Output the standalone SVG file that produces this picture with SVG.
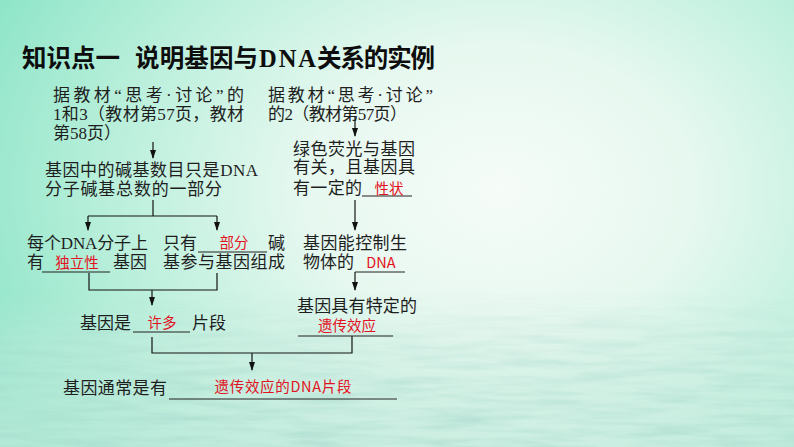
<svg xmlns="http://www.w3.org/2000/svg" width="794" height="447" viewBox="0 0 794 447">
<defs>
<radialGradient id="bg" gradientUnits="userSpaceOnUse" cx="500" cy="190" r="560" fx="500" fy="190" gradientTransform="translate(500 190) scale(1 0.75) translate(-500 -190)">
<stop offset="0" stop-color="#f6fcf8"/>
<stop offset="0.35" stop-color="#e6f8ef"/>
<stop offset="0.7" stop-color="#b9efdb"/>
<stop offset="1" stop-color="#8ee5c8"/>
</radialGradient>
<linearGradient id="fade" x1="0" y1="0" x2="0" y2="1">
<stop offset="0" stop-color="#fff" stop-opacity="0"/>
<stop offset="0.35" stop-color="#fff" stop-opacity="0.6"/>
<stop offset="1" stop-color="#fff" stop-opacity="1"/>
</linearGradient>
<mask id="waterMask" maskUnits="userSpaceOnUse" x="0" y="290" width="794" height="157">
<rect x="0" y="290" width="794" height="157" fill="url(#fade)"/>
</mask>
<filter id="water" x="0" y="0" width="100%" height="100%" color-interpolation-filters="sRGB">
<feTurbulence type="fractalNoise" baseFrequency="0.014 0.13" numOctaves="3" seed="7"/>
<feColorMatrix type="matrix" values="0 0 0 0 0.62  0 0 0 0 0.83  0 0 0 0 0.78  1.3 0 0 0 -0.5"/>
</filter>
<marker id="ah" markerUnits="userSpaceOnUse" markerWidth="8" markerHeight="9" refX="3" refY="8" orient="0" viewBox="0 0 6 9">
<path d="M0,0 L6,0 L3,9 z" fill="#111"/>
</marker>
<style>
.t{font-family:"Liberation Serif","Noto Sans CJK SC",serif;font-size:17px;fill:#1e1e1e}
.r{font-family:"Noto Sans CJK SC","Liberation Sans",sans-serif;font-size:14.5px;fill:#e2121e;text-anchor:middle}
.ttl{font-family:"Noto Sans CJK SC","Liberation Sans",sans-serif;font-size:24.5px;font-weight:700;fill:#0d0d0d}
.ttls{font-family:"Liberation Serif",serif;font-size:24.5px;font-weight:700;fill:#0d0d0d}
.ln{stroke:#151515;stroke-width:1.2;fill:none}
.ar{stroke:#151515;stroke-width:1.2;fill:none;marker-end:url(#ah)}
.ul{stroke:#222;stroke-width:1}
</style>
</defs>
<rect width="794" height="447" fill="url(#bg)"/>
<rect x="0" y="290" width="794" height="157" fill="#d2ece3" opacity="0.55" mask="url(#waterMask)"/>
<rect x="0" y="290" width="794" height="157" filter="url(#water)" mask="url(#waterMask)" opacity="0.8"/>

<g id="title">
<text class="ttl" x="22" y="67" textLength="98">知识点一</text>
<text class="ttl" x="135" y="67" textLength="123">说明基因与</text>
<text class="ttls" x="259" y="67" textLength="57">DNA</text>
<text class="ttl" x="317" y="67" textLength="118">关系的实例</text>
</g>

<g id="connectors">
<line class="ar" x1="153" y1="142" x2="153" y2="158"/>
<line class="ar" x1="355" y1="117" x2="355" y2="136"/>
<polyline class="ln" points="153,200 153,216"/>
<polyline class="ln" points="88,216 217,216"/>
<line class="ar" x1="88" y1="216" x2="88" y2="230"/>
<line class="ar" x1="217" y1="216" x2="217" y2="230"/>
<polyline class="ln" points="89,273 89,290 217,290 217,273"/>
<line class="ar" x1="152" y1="290" x2="152" y2="305"/>
<line class="ar" x1="355" y1="200" x2="355" y2="230"/>
<line class="ar" x1="355" y1="272" x2="355" y2="290"/>
<polyline class="ln" points="152,337 152,353 352,353 352,336"/>
<line class="ar" x1="252" y1="353" x2="252" y2="370"/>
</g>

<g id="node-source-left">
<text class="t" x="53" y="101" textLength="191" lengthAdjust="spacing">据教材“思考·讨论”的</text>
<text class="t" x="53" y="120" textLength="191" lengthAdjust="spacing">1和3（教材第57页，教材</text>
<text class="t" x="53" y="139">第58页）</text>
</g>

<g id="node-source-right">
<text class="t" x="268" y="101" textLength="165" lengthAdjust="spacing">据教材“思考·讨论”</text>
<text class="t" x="268" y="120" textLength="139" lengthAdjust="spacing">的2（教材第57页）</text>
</g>

<g id="node-part">
<text class="t" x="45" y="176" textLength="213" lengthAdjust="spacing">基因中的碱基数目只是DNA</text>
<text class="t" x="45" y="195" textLength="177" lengthAdjust="spacing">分子碱基总数的一部分</text>
</g>

<g id="node-independent">
<text class="t" x="27" y="249" textLength="121" lengthAdjust="spacing">每个DNA分子上</text>
<text class="t" x="27" y="268">有</text>
<line class="ul" x1="42" y1="272" x2="110" y2="272"/>
<text class="r" x="77" y="268">独立性</text>
<text class="t" x="113" y="268">基因</text>
</g>

<g id="node-only-part">
<text class="t" x="163" y="249">只有</text>
<line class="ul" x1="198" y1="252" x2="267" y2="252"/>
<text class="r" x="234" y="248">部分</text>
<text class="t" x="268" y="249">碱</text>
<text class="t" x="163" y="268" textLength="122" lengthAdjust="spacing">基参与基因组成</text>
</g>

<g id="node-many">
<text class="t" x="80" y="329">基因是</text>
<line class="ul" x1="133" y1="332" x2="190" y2="332"/>
<text class="r" x="162" y="328">许多</text>
<text class="t" x="192" y="329">片段</text>
</g>

<g id="node-trait">
<text class="t" x="293" y="155" textLength="122" lengthAdjust="spacing">绿色荧光与基因</text>
<text class="t" x="293" y="173" textLength="122" lengthAdjust="spacing">有关，且基因具</text>
<text class="t" x="293" y="194" textLength="69" lengthAdjust="spacing">有一定的</text>
<line class="ul" x1="362" y1="196" x2="412" y2="196"/>
<text class="r" x="389" y="194">性状</text>
</g>

<g id="node-control">
<text class="t" x="303" y="249" textLength="104" lengthAdjust="spacing">基因能控制生</text>
<text class="t" x="303" y="268">物体的</text>
<line class="ul" x1="355" y1="272" x2="405" y2="272"/>
<text class="r" x="381" y="268">DNA</text>
</g>

<g id="node-effect">
<text class="t" x="297" y="312" textLength="120" lengthAdjust="spacing">基因具有特定的</text>
<text class="r" x="347" y="331">遗传效应</text>
<line class="ul" x1="298" y1="336" x2="393" y2="336"/>
</g>

<g id="node-conclusion">
<text class="t" x="63" y="394" textLength="104" lengthAdjust="spacing">基因通常是有</text>
<line class="ul" x1="169" y1="399" x2="397" y2="399"/>
<text class="r" x="283" y="392" textLength="137" lengthAdjust="spacing">遗传效应的DNA片段</text>
</g>
</svg>
